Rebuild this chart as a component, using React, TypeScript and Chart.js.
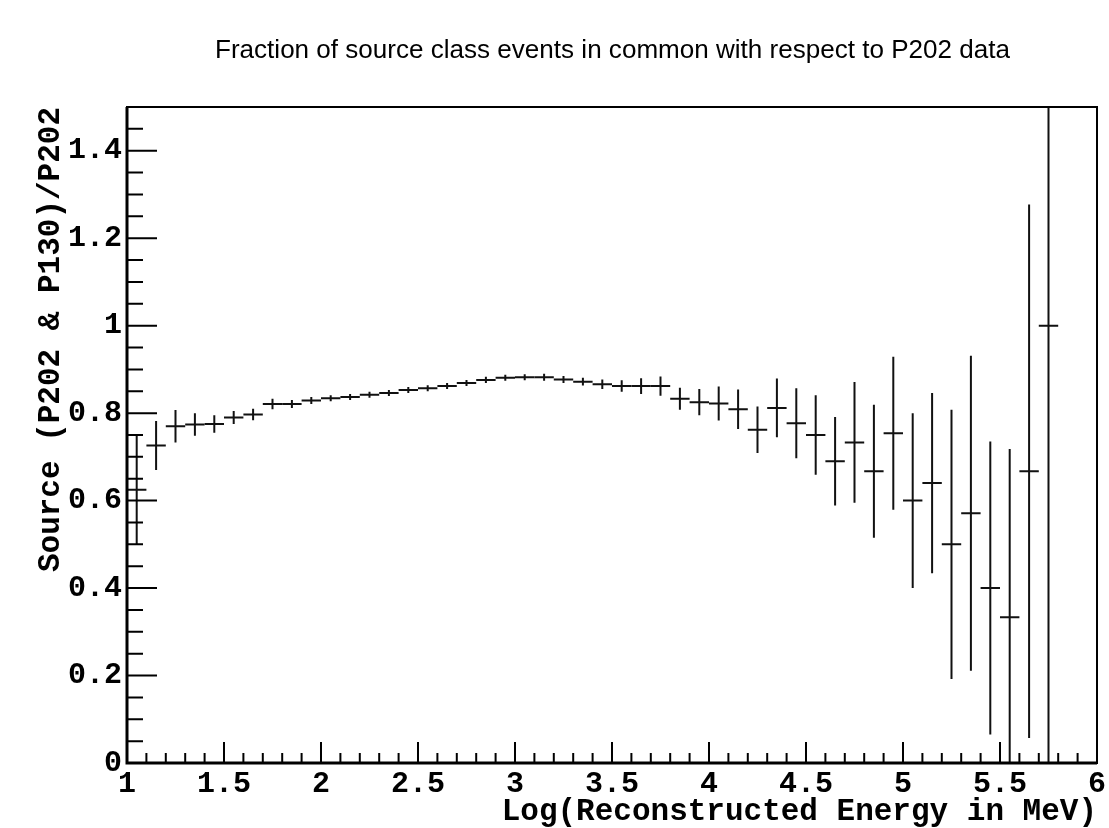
import React, { useEffect, useRef } from 'react';
import { Chart, registerables } from 'chart.js';

Chart.register(...registerables);

// ---- data ----
const binCenters = [
  1.05, 1.15, 1.25, 1.35, 1.45, 1.55, 1.65, 1.75, 1.85, 1.95,
  2.05, 2.15, 2.25, 2.35, 2.45, 2.55, 2.65, 2.75, 2.85, 2.95,
  3.05, 3.15, 3.25, 3.35, 3.45, 3.55, 3.65, 3.75, 3.85, 3.95,
  4.05, 4.15, 4.25, 4.35, 4.45, 4.55, 4.65, 4.75, 4.85, 4.95,
  5.05, 5.15, 5.25, 5.35, 5.45, 5.55, 5.65, 5.75,
];
const fractions = [
  0.625, 0.726, 0.770, 0.774, 0.775, 0.790, 0.797, 0.821, 0.821, 0.829,
  0.834, 0.837, 0.842, 0.846, 0.853, 0.857, 0.862, 0.869, 0.876, 0.881,
  0.882, 0.882, 0.877, 0.872, 0.866, 0.862, 0.862, 0.862, 0.833, 0.825,
  0.822, 0.809, 0.762, 0.812, 0.777, 0.750, 0.690, 0.733, 0.667, 0.754,
  0.600, 0.640, 0.500, 0.571, 0.400, 0.333, 0.667, 1.000,
];
const errors = [
  0.125, 0.056, 0.037, 0.026, 0.020, 0.015, 0.013, 0.012, 0.009, 0.008,
  0.007, 0.007, 0.007, 0.007, 0.007, 0.007, 0.007, 0.007, 0.007, 0.007,
  0.007, 0.008, 0.008, 0.009, 0.011, 0.013, 0.018, 0.022, 0.025, 0.030,
  0.039, 0.045, 0.053, 0.067, 0.080, 0.091, 0.101, 0.138, 0.152, 0.175,
  0.200, 0.206, 0.308, 0.360, 0.335, 0.385, 0.610, 1.000,
];
const BIN_WIDTH = 0.1;

const xTickValues = [1, 1.5, 2, 2.5, 3, 3.5, 4, 4.5, 5, 5.5, 6];
const xTickLabels = ['1', '1.5', '2', '2.5', '3', '3.5', '4', '4.5', '5', '5.5', '6'];
const yTickValues = [0, 0.2, 0.4, 0.6, 0.8, 1.0, 1.2, 1.4];
const yTickLabels = ['0', '0.2', '0.4', '0.6', '0.8', '1', '1.2', '1.4'];
const X_MINOR_STEP = 0.1;
const Y_MINOR_STEP = 0.05;

const TITLE = 'Fraction of source class events in common with respect to P202 data';
const X_TITLE = 'Log(Reconstructed Energy in MeV)';
const Y_TITLE = 'Source (P202 & P130)/P202';

const MONO = "'Liberation Mono', 'DejaVu Sans Mono', monospace";

const rootDecor = {
  id: 'rootDecor',
  beforeDraw(chart: any) {
    const { ctx } = chart;
    ctx.save();
    ctx.fillStyle = '#ffffff';
    ctx.fillRect(0, 0, chart.width, chart.height);
    ctx.restore();
  },
  afterDraw(chart: any) {
    const { ctx, chartArea } = chart;
    const xs = chart.scales.x;
    const ys = chart.scales.y;
    const { left, right, top, bottom } = chartArea;

    // error bars
    ctx.save();
    ctx.beginPath();
    ctx.rect(left, top, right - left, bottom - top);
    ctx.clip();
    ctx.strokeStyle = '#111';
    ctx.lineWidth = 2;
    ctx.lineCap = 'butt';
    const yMin = ys.min, yMax = ys.max;
    for (let i = 0; i < binCenters.length; i++) {
      const c = binCenters[i];
      const v = fractions[i];
      const e = errors[i];
      const x0 = xs.getPixelForValue(c - BIN_WIDTH / 2);
      const x1 = xs.getPixelForValue(c + BIN_WIDTH / 2);
      const xc = xs.getPixelForValue(c);
      const yc = ys.getPixelForValue(v);
      const yt = ys.getPixelForValue(Math.min(v + e, yMax + 0.05));
      const yb = ys.getPixelForValue(Math.max(v - e, yMin - 0.05));
      ctx.beginPath();
      ctx.moveTo(x0, yc);
      ctx.lineTo(x1, yc);
      ctx.moveTo(xc, yt);
      ctx.lineTo(xc, yb);
      ctx.stroke();
    }
    ctx.restore();

    // frame
    ctx.save();
    ctx.strokeStyle = '#000';
    ctx.lineWidth = 2;
    ctx.strokeRect(left, top, right - left, bottom - top);
    ctx.lineWidth = 3;
    ctx.beginPath();
    ctx.moveTo(left, top);
    ctx.lineTo(left, bottom);
    ctx.lineTo(right, bottom);
    ctx.stroke();

    // ticks (inward)
    ctx.lineWidth = 2;
    ctx.beginPath();
    for (let k = 0; ; k++) {
      const v = xs.min + k * X_MINOR_STEP;
      if (v > xs.max + 1e-9) break;
      const px = xs.getPixelForValue(v);
      const isMajor = Math.abs(v * 2 - Math.round(v * 2)) < 1e-6;
      const len = isMajor ? 21 : 10;
      ctx.moveTo(px, bottom);
      ctx.lineTo(px, bottom - len);
    }
    for (let k = 0; ; k++) {
      const v = ys.min + k * Y_MINOR_STEP;
      if (v > ys.max + 1e-9) break;
      const py = ys.getPixelForValue(v);
      const isMajor = Math.abs(v * 5 - Math.round(v * 5)) < 1e-6;
      const len = isMajor ? 30 : 16;
      ctx.moveTo(left, py);
      ctx.lineTo(left + len, py);
    }
    ctx.stroke();
    ctx.restore();

    // title (condensed Helvetica-like)
    ctx.save();
    ctx.font = "25px 'Liberation Sans', Arial, sans-serif";
    ctx.fillStyle = '#000';
    ctx.textBaseline = 'alphabetic';
    ctx.textAlign = 'left';
    const w = ctx.measureText(TITLE).width;
    const target = 795;
    const sx = target / w;
    ctx.translate(215, 58);
    ctx.scale(sx, 1);
    ctx.fillText(TITLE, 0, 0);
    ctx.restore();
  },
};

export default function App() {
  const canvasRef = useRef<HTMLCanvasElement | null>(null);

  useEffect(() => {
    document.body.style.margin = '0';
    const canvas = canvasRef.current;
    if (!canvas) return;
    const chart = new Chart(canvas, {
      type: 'scatter',
      data: {
        datasets: [
          {
            label: 'fraction',
            data: binCenters.map((x, i) => ({ x, y: fractions[i] })),
            pointRadius: 0,
            pointHoverRadius: 0,
            showLine: false,
            borderColor: '#000',
            backgroundColor: '#000',
          },
        ],
      },
      options: {
        responsive: false,
        animation: false,
        devicePixelRatio: 1,
        events: [],
        layout: { padding: { top: 107, right: 10, left: 0, bottom: 0 } },
        plugins: {
          legend: { display: false },
          title: { display: false },
          tooltip: { enabled: false },
        },
        scales: {
          x: {
            type: 'linear',
            min: 1,
            max: 6,
            afterBuildTicks: (s: any) => {
              s.ticks = xTickValues.map((value) => ({ value }));
            },
            afterFit: (s: any) => {
              s.height = 65;
            },
            grid: { display: false, drawTicks: false },
            border: { display: false },
            ticks: {
              autoSkip: false,
              maxRotation: 0,
              minRotation: 0,
              padding: 3,
              color: '#000',
              font: { family: MONO, size: 30, weight: 'bold' },
              callback: (_v: any, i: number) => xTickLabels[i],
            },
            title: {
              display: true,
              text: X_TITLE,
              align: 'end',
              color: '#000',
              padding: { top: 0, bottom: 0 },
              font: { family: MONO, size: 31, weight: 'bold', lineHeight: 1 },
            },
          },
          y: {
            type: 'linear',
            min: 0,
            max: 1.5,
            afterBuildTicks: (s: any) => {
              s.ticks = yTickValues.map((value) => ({ value }));
            },
            afterFit: (s: any) => {
              s.width = 127;
            },
            grid: { display: false, drawTicks: false },
            border: { display: false },
            ticks: {
              autoSkip: false,
              padding: 5,
              color: '#000',
              font: { family: MONO, size: 30, weight: 'bold' },
              callback: (_v: any, i: number) => yTickLabels[i],
            },
            title: {
              display: true,
              text: Y_TITLE,
              align: 'end',
              color: '#000',
              padding: { top: 36, bottom: 0 },
              font: { family: MONO, size: 31, weight: 'bold', lineHeight: 1 },
            },
          },
        },
      },
      plugins: [rootDecor],
    });
    return () => {
      chart.destroy();
    };
  }, []);

  return (
    <div style={{ position: 'absolute', left: 0, top: 0, width: 1109, height: 828 }}>
      <canvas ref={canvasRef} width={1109} height={828} style={{ display: 'block' }} />
    </div>
  );
}
